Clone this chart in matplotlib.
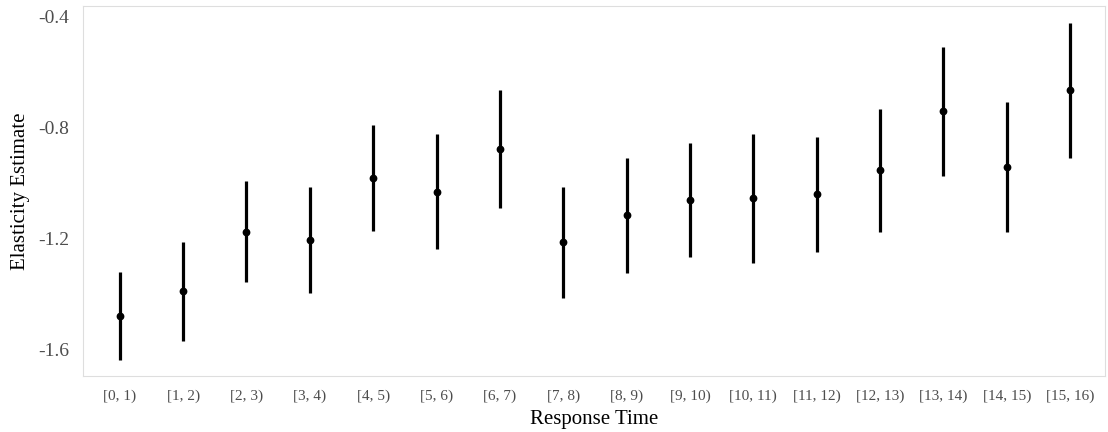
import matplotlib
matplotlib.use("Agg")
import matplotlib.pyplot as plt

plt.rcParams['font.family'] = ['Liberation Serif', 'DejaVu Serif']

bins = ['[0, 1)', '[1, 2)', '[2, 3)', '[3, 4)', '[4, 5)', '[5, 6)', '[6, 7)', '[7, 8)',
        '[8, 9)', '[9, 10)', '[10, 11)', '[11, 12)', '[12, 13)', '[13, 14)', '[14, 15)', '[15, 16)']
estimate = [-1.477, -1.388, -1.175, -1.205, -0.982, -1.031, -0.878, -1.213,
            -1.115, -1.061, -1.055, -1.040, -0.954, -0.741, -0.943, -0.667]
ci_low = [-1.636, -1.567, -1.357, -1.396, -1.174, -1.237, -1.091, -1.414,
          -1.322, -1.266, -1.286, -1.248, -1.177, -0.974, -1.177, -0.909]
ci_high = [-1.319, -1.211, -0.993, -1.014, -0.792, -0.825, -0.666, -1.013,
           -0.909, -0.856, -0.825, -0.834, -0.734, -0.510, -0.709, -0.425]

fig = plt.figure(figsize=(11.08, 4.32), dpi=100)
ax = fig.add_axes([0.0749, 0.1296, 0.9224, 0.8565])

x = list(range(len(bins)))
lower = [e - l for e, l in zip(estimate, ci_low)]
upper = [h - e for e, h in zip(estimate, ci_high)]
ax.errorbar(x, estimate, yerr=[lower, upper], fmt='o', color='black',
            ecolor='black', elinewidth=2.3, markersize=4.6, capsize=0)

ax.set_xlim(-0.58, 15.55)
ax.set_ylim(-1.694, -0.364)
ax.set_yticks([-1.6, -1.2, -0.8, -0.4])
ax.set_yticklabels(['-1.6', '-1.2', '-0.8', '-0.4'])
ax.set_xticks(x)
ax.set_xticklabels(bins)

ax.tick_params(axis='y', length=0, pad=10, labelsize=14, labelcolor='#4d4d4d')
ax.tick_params(axis='x', length=0, pad=10, labelsize=11, labelcolor='#4d4d4d')
for s in ax.spines.values():
    s.set_color('#dedede')
    s.set_linewidth(0.8)

ax.set_xlabel('Response Time', fontsize=15, labelpad=5)
ax.set_ylabel('Elasticity Estimate', fontsize=15, labelpad=6)

fig.savefig('out.png', dpi=100)
